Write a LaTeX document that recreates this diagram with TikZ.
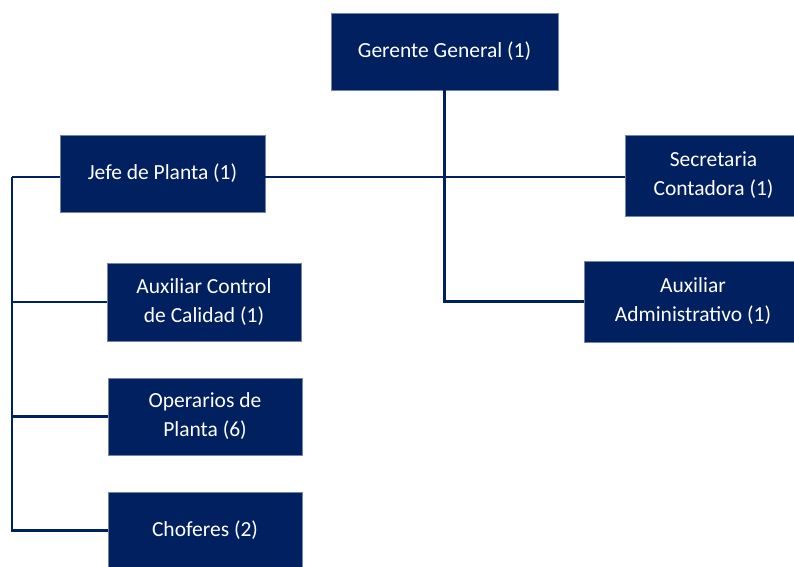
\documentclass[tikz,border=0pt]{standalone}
\usepackage{fontspec}
\setmainfont{Carlito}
\usepackage{xcolor}
\usepackage{tikz}
\usetikzlibrary{positioning,calc}
\definecolor{navy}{HTML}{002060}
\tikzset{
  blk/.style = {rectangle, draw=navy!55!white, line width=0.6pt, fill=navy,
                text=white, align=center, inner sep=2pt,
                font=\fontsize{21.5}{29}\selectfont},
  ln/.style  = {draw=navy, line width=2.8pt},
}

\begin{document}
\begin{tikzpicture}[x=1pt, y=-1pt]
  \useasboundingbox (0,0) rectangle (794,566);
  % cabeza
  \node[blk, minimum width=227pt, minimum height=77pt] (ger) at (444.5,51.5) {Gerente General (1)};
  % rama izquierda
  \node[blk, minimum width=205pt, minimum height=77pt] (jef) at (162.5,173.5) {Jefe de Planta (1)};
  \node[blk, minimum width=194pt, minimum height=78pt] (ctl) at (204,302) {Auxiliar Control\\ de Calidad (1)};
  \node[blk, minimum width=194pt, minimum height=77pt] (ope) at (205,416.5) {Operarios de\\ Planta (6)};
  \node[blk, minimum width=194pt, minimum height=77pt] (cho) at (205,530.5) {Choferes (2)};
  % rama derecha
  \node[blk, minimum width=177pt, minimum height=81pt] (sec) at (713.5,175.5) {Secretaria\\ Contadora (1)};
  \node[blk, minimum width=218pt, minimum height=81pt] (adm) at (693,301.5) {Auxiliar\\ Administrativo (1)};
  \coordinate (lt) at (12,177);

  \draw[ln] (lt) -- (lt -| jef.west);
  \draw[ln] (jef.east |- lt) -- (lt -| sec.west);
  \draw[ln] (ger.south) |- (adm.west);
  \draw[ln] (lt) |- (cho.west);
  \draw[ln] (lt |- ctl.west) -- (ctl.west);
  \draw[ln] (lt |- ope.west) -- (ope.west);
\end{tikzpicture}
\end{document}
